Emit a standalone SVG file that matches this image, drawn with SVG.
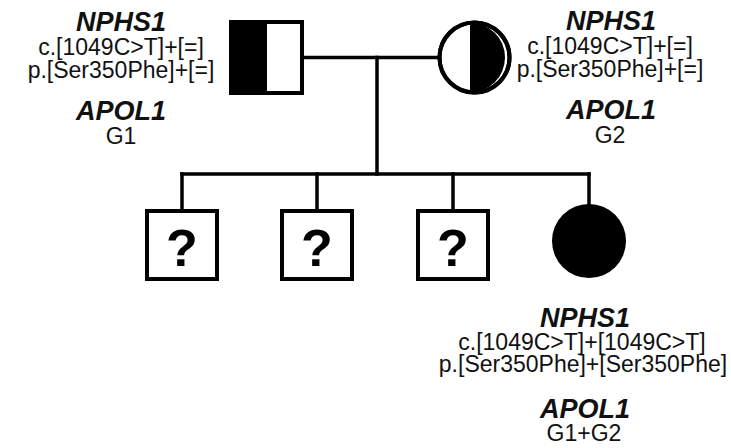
<svg xmlns="http://www.w3.org/2000/svg" width="731" height="448" viewBox="0 0 731 448">
  <style>
    .ln { stroke: #000; stroke-width: 3.5; fill: none; stroke-linecap: square; }
    .sym { stroke: #000; stroke-width: 4; fill: #fff; }
    .gene { font-family: "Liberation Sans", Arial, sans-serif; font-size: 27px; font-weight: bold; font-style: italic; fill: #111; text-anchor: middle; }
    .var { font-family: "Liberation Sans", Arial, sans-serif; font-size: 23px; fill: #111; text-anchor: middle; }
    .q { font-family: "Liberation Sans", Arial, sans-serif; font-size: 52px; font-weight: bold; fill: #000; text-anchor: middle; }
  </style>
  <rect width="731" height="448" fill="#fff"/>

  <!-- connectors: mating line, descent line, sibship line and drop lines -->
  <g id="connectors">
    <path class="ln" d="M304 57.5 H437"/>
    <path class="ln" d="M377 57.5 V174"/>
    <path class="ln" d="M182 174 H589"/>
    <path class="ln" d="M182 174 V210"/>
    <path class="ln" d="M317 174 V210"/>
    <path class="ln" d="M453 174 V210"/>
    <path class="ln" d="M589 174 V205"/>
  </g>

  <!-- father: male, heterozygous carrier -->
  <g id="father">
    <rect class="sym" x="231" y="22" width="71" height="71"/>
    <rect x="231" y="22" width="36" height="71" fill="#000"/>
    <text class="gene" x="121" y="31">NPHS1</text>
    <text class="var" x="121" y="55">c.[1049C&gt;T]+[=]</text>
    <text class="var" x="121" y="78">p.[Ser350Phe]+[=]</text>
    <text class="gene" x="121" y="120">APOL1</text>
    <text class="var" x="121" y="144">G1</text>
  </g>

  <!-- mother: female, heterozygous carrier -->
  <g id="mother">
    <circle class="sym" cx="474.5" cy="57.5" r="35"/>
    <path d="M470 22.5 A35 35 0 0 1 470 92.5 Z" fill="#000"/>
    <circle cx="474.5" cy="57.5" r="35" fill="none" stroke="#000" stroke-width="4"/>
    <text class="gene" x="611" y="30">NPHS1</text>
    <text class="var" x="610" y="54">c.[1049C&gt;T]+[=]</text>
    <text class="var" x="610" y="77">p.[Ser350Phe]+[=]</text>
    <text class="gene" x="611" y="119">APOL1</text>
    <text class="var" x="610" y="143">G2</text>
  </g>

  <!-- children with unknown status -->
  <g id="child1">
    <rect class="sym" x="147" y="211" width="70" height="68"/>
    <text class="q" x="182" y="266">?</text>
  </g>
  <g id="child2">
    <rect class="sym" x="282" y="211" width="70" height="68"/>
    <text class="q" x="317" y="266">?</text>
  </g>
  <g id="child3">
    <rect class="sym" x="418" y="211" width="70" height="68"/>
    <text class="q" x="453" y="266">?</text>
  </g>

  <!-- proband: affected female, compound genotype -->
  <g id="proband">
    <circle cx="589" cy="241" r="37" fill="#000"/>
    <text class="gene" x="585" y="327">NPHS1</text>
    <text class="var" x="582" y="350">c.[1049C&gt;T]+[1049C&gt;T]</text>
    <text class="var" x="583" y="372">p.[Ser350Phe]+[Ser350Phe]</text>
    <text class="gene" x="585" y="418">APOL1</text>
    <text class="var" x="584" y="441">G1+G2</text>
  </g>
</svg>
